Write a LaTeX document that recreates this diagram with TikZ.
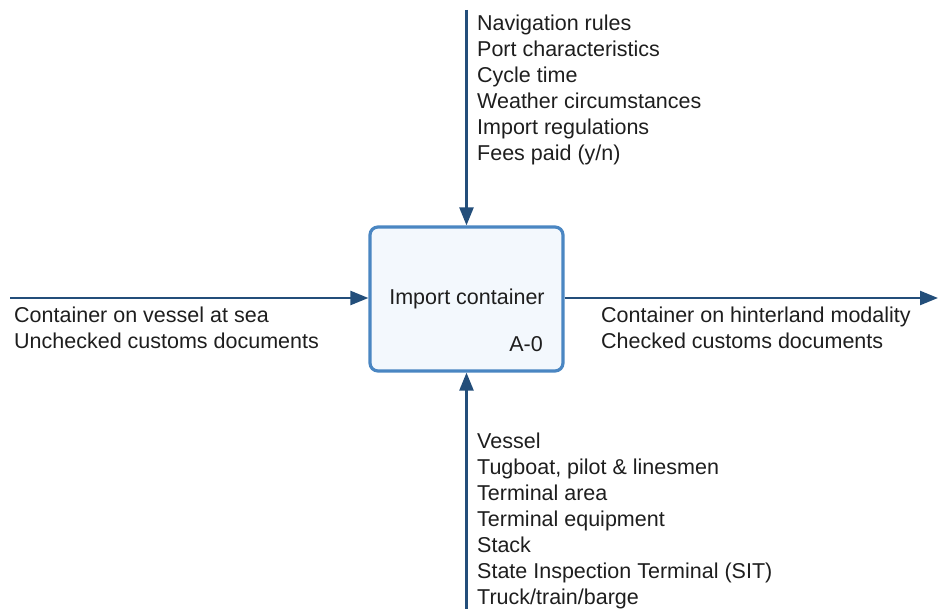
\documentclass[tikz,border=0pt]{standalone}
\usepackage{fontspec}
\setmainfont{Liberation Sans}
\usetikzlibrary{arrows.meta}
\definecolor{flow}{HTML}{234E7A}
\definecolor{boxline}{HTML}{4A86C2}
\definecolor{boxfill}{HTML}{F3F8FD}
\definecolor{ink}{HTML}{1E1E1E}
\tikzset{
  flowline/.style={draw=flow, line width=2.4pt, -{Triangle[length=18pt,width=14pt]}},
  activity/.style={draw=boxline, fill=boxfill, line width=3.2pt, rounded corners=8pt,
    minimum width=193pt, minimum height=144pt, inner sep=0pt},
  label/.style={anchor=north west, inner sep=0pt, align=left, text=ink,
    font=\fontsize{21.5}{26}\selectfont},
}
\begin{document}
\begin{tikzpicture}[x=1pt,y=-1pt]
  \useasboundingbox (0,0) rectangle (938,609);

  % central activity box
  \node[activity] (box) at (466.5,299) {};
  \node[label, anchor=north] (title) at (467,288.5) {Import container};
  \node[label, anchor=north east] (code) at (543,336.5) {A-0};

  % free ends of the ICOM arrows
  \coordinate (ctrl) at (466.5,10);
  \coordinate (inp) at (10,298);
  \coordinate (outp) at (938,298);
  \coordinate (mech) at (466.5,609);

  % controls (top)
  \draw[flowline] (ctrl) -- (box.north);
  % input (left)
  \draw[flowline] (inp) -- (box.west |- inp);
  % output (right)
  \draw[flowline] (box.east |- outp) -- (outp);
  % mechanisms (bottom)
  \draw[flowline] (mech) -- (box.south);

  \node[label] (controls) at (477,14.5) {Navigation rules\\Port characteristics\\Cycle time\\Weather circumstances\\Import regulations\\Fees paid (y/n)};
  \node[label] (inputs) at (14,306.5) {Container on vessel at sea\\Unchecked customs documents};
  \node[label] (outputs) at (601,306.5) {Container on hinterland modality\\Checked customs documents};
  \node[label] (mechanisms) at (477,432.5) {Vessel\\Tugboat, pilot \& linesmen\\Terminal area\\Terminal equipment\\Stack\\State Inspection Terminal (SIT)\\Truck/train/barge};
\end{tikzpicture}
\end{document}
